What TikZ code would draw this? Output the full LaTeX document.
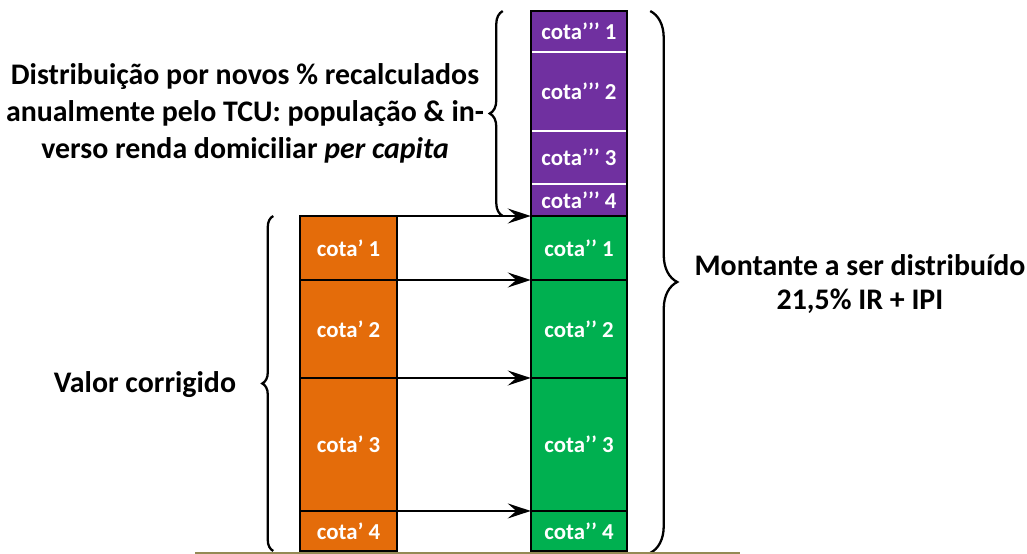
\documentclass[tikz,border=0pt]{standalone}
\usepackage{fontspec}
\setmainfont{Carlito}
\usetikzlibrary{arrows.meta,positioning,decorations.pathreplacing}
\definecolor{Ink}{HTML}{000000}
\definecolor{Orange}{HTML}{E46C0A}
\definecolor{Green}{HTML}{00B050}
\definecolor{Purple}{HTML}{7030A0}
\definecolor{Ground}{HTML}{948A54}
\tikzset{
  cell/.style={draw=Ink,line width=1.3pt,minimum width=1.93cm,inner sep=0pt,outer sep=0pt,text=white,font=\fontsize{13}{15}\selectfont\bfseries},
  cellorange/.style={cell,fill=Orange},
  cellgreen/.style={cell,fill=Green},
  cellpurple/.style={cell,draw=white,line width=1pt,fill=Purple},
  note/.style={align=center,text=Ink,font=\fontsize{17}{21}\selectfont\bfseries},
  arrow/.style={-{Stealth[length=0.46cm,width=0.3cm,inset=0.17cm]},line width=1.1pt,draw=Ink},
  bracel/.style={decorate,decoration={brace,amplitude=#1},line width=1.3pt,draw=Ink},
  ground/.style={line width=1.7pt,draw=Ground}
}
\begin{document}
\begin{tikzpicture}[x=0.02cm,y=-0.02cm]
  \useasboundingbox (0,0) rectangle (1027,554);

  % coluna laranja
  \node[cellorange,minimum height=1.28cm] (o1) at (348.5,248) {cota’ 1};
  \node[cellorange,minimum height=1.96cm,below=0pt of o1] (o2) {cota’ 2};
  \node[cellorange,minimum height=2.66cm,below=0pt of o2] (o3) {cota’ 3};
  \node[cellorange,minimum height=0.80cm,below=0pt of o3] (o4) {cota’ 4};

  % coluna verde
  \node[cellgreen,minimum height=1.28cm] (g1) at (579,248) {cota’’ 1};
  \node[cellgreen,minimum height=1.96cm,below=0pt of g1] (g2) {cota’’ 2};
  \node[cellgreen,minimum height=2.66cm,below=0pt of g2] (g3) {cota’’ 3};
  \node[cellgreen,minimum height=0.80cm,below=0pt of g3] (g4) {cota’’ 4};

  % coluna roxa
  \node[cellpurple,minimum height=0.64cm,above=0pt of g1] (p4) {cota’’’ 4};
  \node[cellpurple,minimum height=1.06cm,above=0pt of p4] (p3) {cota’’’ 3};
  \node[cellpurple,minimum height=1.58cm,above=0pt of p3] (p2) {cota’’’ 2};
  \node[cellpurple,minimum height=0.82cm,above=0pt of p2] (p1) {cota’’’ 1};
  \draw[line width=1.3pt,draw=Ink] (p1.north west) rectangle (p4.south east);

  \draw[arrow] (o1.north east) -- (g1.north west);
  \draw[arrow] (o2.north east) -- (g2.north west);
  \draw[arrow] (o3.north east) -- (g3.north west);
  \draw[arrow] (o4.north east) -- (g4.north west);

  \draw[bracel=0.22cm] ([xshift=-0.54cm]o4.south west) -- ([xshift=-0.54cm]o1.north west);
  \draw[bracel=0.26cm] ([xshift=-0.56cm]p4.south west) -- ([xshift=-0.56cm]p1.north west);
  \draw[bracel=0.54cm] ([xshift=0.46cm]p1.north east) -- ([xshift=0.46cm,yshift=-0.04cm]g4.south east);

  \node[note] (leftnote) at (145,385) {Valor corrigido};
  \node[note] (topnote) at (245,113) {Distribuição por novos \% recalculados\\anualmente pelo TCU: população \& in-\\verso renda domiciliar \textit{per capita}};
  \node[note,font=\fontsize{17}{19}\selectfont\bfseries] (rightnote) at (860,284) {Montante a ser distribuído\\21,5\% IR + IPI};

  \draw[ground] (195,553) -- (740,553);
\end{tikzpicture}
\end{document}
